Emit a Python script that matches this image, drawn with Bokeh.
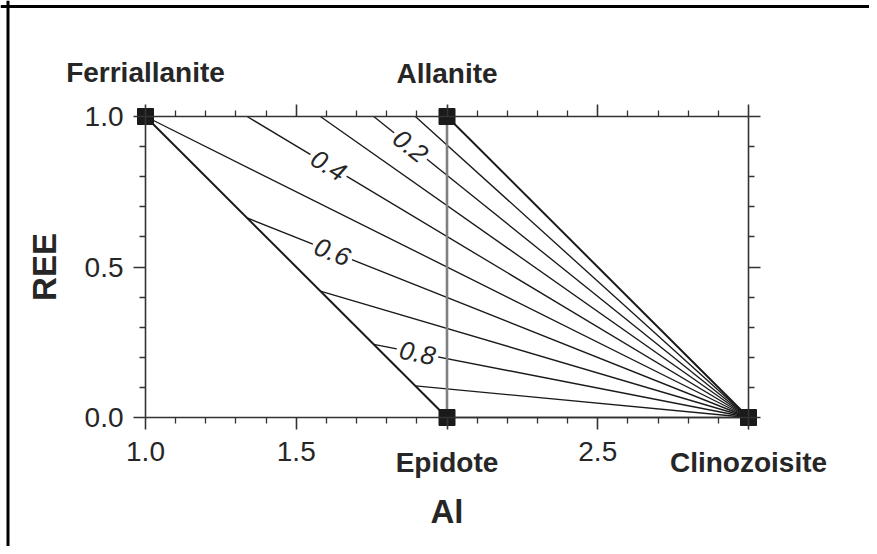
import math
from bokeh.plotting import figure
from bokeh.models import Range1d, LinearAxis, FixedTicker, Label, Span, PrintfTickFormatter
from bokeh.embed import file_html
from bokeh.resources import INLINE

# ---- data ----
contour_values = [0.0, 0.1, 0.2, 0.3, 0.4, 0.5, 0.6, 0.7, 0.8, 0.9, 1.0]
start_al = [2.0, 1.895, 1.757, 1.58, 1.337, 1.0, 1.337, 1.58, 1.757, 1.895, 2.0]
start_ree = [1.0, 1.0, 1.0, 1.0, 1.0, 1.0, 0.663, 0.42, 0.243, 0.105, 0.0]
end_al = 3.0   # Clinozoisite
end_ree = 0.0

minerals = ["Ferriallanite", "Allanite", "Epidote", "Clinozoisite"]
mineral_al = [1.0, 2.0, 2.0, 3.0]
mineral_ree = [1.0, 1.0, 0.0, 0.0]

labelled_values = [0.2, 0.4, 0.6, 0.8]
label_al = [1.879, 1.607, 1.62, 1.902]

x_major = [1.0, 1.5, 2.0, 2.5, 3.0]
x_minor = [1.1, 1.2, 1.3, 1.4, 1.6, 1.7, 1.8, 1.9, 2.1, 2.2, 2.3, 2.4, 2.6, 2.7, 2.8, 2.9]
y_major = [0.0, 0.5, 1.0]
y_minor = [0.1, 0.2, 0.3, 0.4, 0.6, 0.7, 0.8, 0.9]
x_label_overrides = {2.0: "", 3.0: ""}

FONT = "Liberation Sans"
TXT = "#262626"
AX = "#333333"

# ---- layout: pixel positions of the data box inside the canvas ----
W, H = 869, 546
PX_X1, PX_X3 = 145.0, 748.0     # Al = 1 and Al = 3
PX_Y1, PX_Y0 = 116.0, 417.0     # REE = 1 and REE = 0
kx = (PX_X3 - PX_X1) / 2.0
ky = (PX_Y0 - PX_Y1) / 1.0
x_lo = 1.0 - PX_X1 / kx
x_hi = 1.0 + (W - PX_X1) / kx
y_hi = 1.0 + PX_Y1 / ky
y_lo = -(H - PX_Y0) / ky

p = figure(width=W, height=H, output_backend="svg", toolbar_location=None,
           x_range=Range1d(x_lo, x_hi), y_range=Range1d(y_lo, y_hi),
           min_border_left=0, min_border_right=0, min_border_top=0, min_border_bottom=0,
           x_axis_label="Al", y_axis_label="REE")
p.border_fill_color = "white"
p.outline_line_color = None
p.xgrid.visible = False
p.ygrid.visible = False

def style_axis(ax, major, minor, bounds):
    ax.ticker = FixedTicker(ticks=major, minor_ticks=minor)
    ax.formatter = PrintfTickFormatter(format="%.1f")
    ax.bounds = bounds
    ax.axis_line_color = AX
    ax.axis_line_width = 1.6
    ax.major_tick_line_color = AX
    ax.major_tick_line_width = 1.6
    ax.minor_tick_line_color = AX
    ax.minor_tick_line_width = 1.3
    ax.major_tick_in = 0
    ax.major_tick_out = 12
    ax.minor_tick_in = 0
    ax.minor_tick_out = 6
    ax.major_label_text_font = FONT
    ax.major_label_text_color = TXT
    ax.major_label_text_font_size = "28px"

xa = p.xaxis[0]
style_axis(xa, x_major, x_minor, (1.0, 3.0))
xa.fixed_location = 0.0
xa.major_label_overrides = x_label_overrides
xa.major_label_standoff = 12
xa.axis_label_text_font = FONT
xa.axis_label_text_font_size = "33px"
xa.axis_label_text_font_style = "bold"
xa.axis_label_text_color = TXT
xa.axis_label_standoff = 29

ya = p.yaxis[0]
style_axis(ya, y_major, y_minor, (0.0, 1.0))
ya.fixed_location = 1.0
ya.major_label_standoff = 10
ya.axis_label_text_font = FONT
ya.axis_label_text_font_size = "33px"
ya.axis_label_text_font_style = "bold"
ya.axis_label_text_color = TXT
ya.axis_label_standoff = 19

top = LinearAxis()
style_axis(top, x_major, x_minor, (1.0, 3.0))
top.major_label_overrides = {v: "" for v in x_major}
top.major_label_standoff = 0
top.fixed_location = 1.0
p.add_layout(top, "above")

right = LinearAxis()
style_axis(right, y_major, y_minor, (0.0, 1.0))
right.major_label_overrides = {v: "" for v in y_major}
right.major_label_standoff = 0
right.fixed_location = 3.0
p.add_layout(right, "right")

# outer frame (left and top edges of the figure box)
p.add_layout(Span(location=x_lo + 7.5 / kx, dimension="height", line_color="black", line_width=3))
p.add_layout(Span(location=y_hi - 6.0 / ky, dimension="width", line_color="black", line_width=3))

# fan of iso-lines converging on Clinozoisite
xs, ys, widths = [], [], []
for v, x0, y0 in zip(contour_values, start_al, start_ree):
    xs.append([x0, end_al])
    ys.append([y0, end_ree])
    widths.append(2.0 if v == 0.0 else 1.35)
p.multi_line(xs=xs, ys=ys, line_color="#1a1a1a", line_width=widths)

# boundary Ferriallanite - Epidote
p.line(x=[mineral_al[0], mineral_al[2]], y=[mineral_ree[0], mineral_ree[2]],
       line_color="#1a1a1a", line_width=2.0)
# Allanite - Epidote join
p.line(x=[mineral_al[1], mineral_al[2]], y=[mineral_ree[1], mineral_ree[2]],
       line_color="#808080", line_width=2.6)

# contour labels with gaps
for v, lx in zip(labelled_values, label_al):
    i = contour_values.index(v)
    x0, y0 = start_al[i], start_ree[i]
    ly = y0 * (end_al - lx) / (end_al - x0)
    ang = math.atan2(-(y0 - end_ree) * ky, (end_al - x0) * kx)
    p.add_layout(Label(x=lx, y=ly, text=f"{v:.1f}", angle=ang,
                       text_align="center", text_baseline="middle",
                       text_font=FONT, text_font_size="26px", text_font_style="italic",
                       text_color=TXT, background_fill_color="white",
                       background_fill_alpha=1.0, padding=3))

# end-member squares
p.scatter(x=mineral_al, y=mineral_ree, marker="square", size=16,
          fill_color="#1a1a1a", line_color="#1a1a1a")

# end-member names
offsets = [44, 43, -45, -45]
for name, mx, my, off in zip(minerals, mineral_al, mineral_ree, offsets):
    p.add_layout(Label(x=mx, y=my, text=name, y_offset=off,
                       text_align="center", text_baseline="alphabetic",
                       text_font=FONT, text_font_size="28px", text_font_style="bold",
                       text_color=TXT))

open("out.html", "w").write(file_html(p, INLINE))
